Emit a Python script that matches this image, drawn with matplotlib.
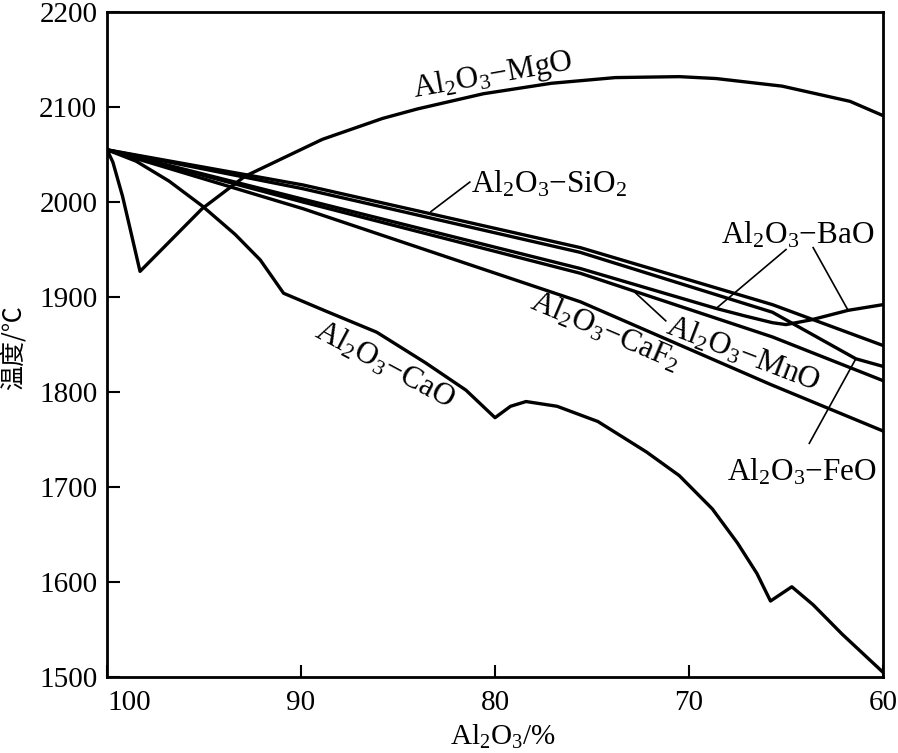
import matplotlib
matplotlib.use("Agg")
import matplotlib.pyplot as plt

# Al2O3 content (%) and liquidus temperature (deg C) for each binary system
mgo_x = [100, 99.7, 99.2, 98.8, 98.3, 95.1, 92.9, 88.9, 85.8, 84.0, 80.6, 77.1, 73.8, 70.5, 68.6, 65.2, 61.7, 60]
mgo_y = [2055, 2042, 2006, 1971, 1927, 1993, 2027, 2066, 2088, 2098, 2114, 2125, 2131, 2132, 2130, 2122, 2106, 2091]

cao_x = [100, 98.5, 96.8, 95.1, 93.4, 92.1, 90.9, 88.7, 86.1, 83.6, 81.5, 80.0, 79.2, 78.4,
         76.8, 74.7, 72.2, 70.5, 68.8, 67.5, 66.5, 65.8, 64.7, 63.6, 62.1, 60]
cao_y = [2055, 2043, 2022, 1996, 1966, 1939, 1904, 1885, 1863, 1831, 1802, 1773, 1785, 1790,
         1785, 1769, 1737, 1712, 1677, 1641, 1609, 1580, 1595, 1576, 1545, 1505]

sio2_x = [100, 89.9, 75.6, 65.7, 60]
sio2_y = [2055, 2018, 1952, 1892, 1849]

feo_x = [100, 89.9, 75.6, 65.7, 61.4, 60]
feo_y = [2055, 2014, 1947, 1884, 1835, 1827]

bao_x = [100, 89.9, 75.6, 68.6, 67.1, 65.7, 65.0, 63.7, 61.8, 60]
bao_y = [2055, 2003, 1930, 1888, 1880, 1873, 1871, 1876, 1886, 1892]

mno_x = [100, 89.9, 75.6, 65.7, 60]
mno_y = [2055, 2000, 1925, 1858, 1812]

caf2_x = [100, 89.9, 75.6, 65.8, 60]
caf2_y = [2055, 1993, 1895, 1808, 1759]

x_ticks = [100, 90, 80, 70, 60]
y_ticks = [1500, 1600, 1700, 1800, 1900, 2000, 2100, 2200]

SERIF = ["Liberation Serif", "DejaVu Serif"]
plt.rcParams["font.family"] = SERIF
plt.rcParams["mathtext.default"] = "regular"

fig = plt.figure(figsize=(8.98, 7.53), dpi=100)
ax = fig.add_axes([0.1192, 0.1009, 0.8641, 0.8831])

LW = 2.4
for xs, ys in [(mgo_x, mgo_y), (cao_x, cao_y), (sio2_x, sio2_y), (feo_x, feo_y),
               (bao_x, bao_y), (mno_x, mno_y), (caf2_x, caf2_y)]:
    ax.plot(xs, ys, color="black", linewidth=LW, solid_joinstyle="round",
            solid_capstyle="round")

ax.set_xlim(100, 60)
ax.set_ylim(1500, 2200)
ax.set_xticks(x_ticks)
ax.set_xticklabels([str(v) for v in x_ticks])
ax.set_yticks(y_ticks)
ax.tick_params(direction="in", length=9, width=1.5, labelsize=21, pad=7)
ax.tick_params(axis="x", pad=9)
ax.get_xticklabels()[0].set_horizontalalignment("left")
for s in ax.spines.values():
    s.set_linewidth(2.0)

# curve labels
lab_size = 22.5
ax.text(80.1, 2133, "Al$_2$O$_3$−MgO", fontsize=lab_size, rotation=10,
        ha="center", va="center", rotation_mode="anchor")
ax.text(77.2, 2019, "Al$_2$O$_3$−SiO$_2$", fontsize=lab_size,
        ha="center", va="center")
ax.text(64.4, 1965, "Al$_2$O$_3$−BaO", fontsize=lab_size,
        ha="center", va="center")
ax.text(67.2, 1840, "Al$_2$O$_3$−MnO", fontsize=lab_size, rotation=-21,
        ha="center", va="center", rotation_mode="anchor")
ax.text(74.3, 1864, "Al$_2$O$_3$−CaF$_2$", fontsize=lab_size, rotation=-23,
        ha="center", va="center", rotation_mode="anchor")
ax.text(64.2, 1716, "Al$_2$O$_3$−FeO", fontsize=lab_size,
        ha="center", va="center")
ax.text(85.7, 1829, "Al$_2$O$_3$−CaO", fontsize=lab_size, rotation=-28,
        ha="center", va="center", rotation_mode="anchor")

# leader lines from labels to curves
leaders = [((81.3, 2021), (83.3, 1990)),
           ((65.0, 1950), (68.6, 1888)),
           ((63.6, 1952), (61.8, 1886)),
           ((71.2, 1875), (72.9, 1907)),
           ((63.8, 1746), (61.4, 1835))]
for (x0, y0), (x1, y1) in leaders:
    ax.plot([x0, x1], [y0, y1], color="black", linewidth=1.2)

fig.text(0.0156, 0.5378, "温度/℃", rotation=90, fontsize=18,
         ha="center", va="center", family=["Noto Sans CJK SC", "DejaVu Sans"])
fig.text(0.560, 0.022, "Al$_2$O$_3$/%", fontsize=21, ha="center", va="center")

fig.savefig("out.png", dpi=100)
plt.close(fig)
